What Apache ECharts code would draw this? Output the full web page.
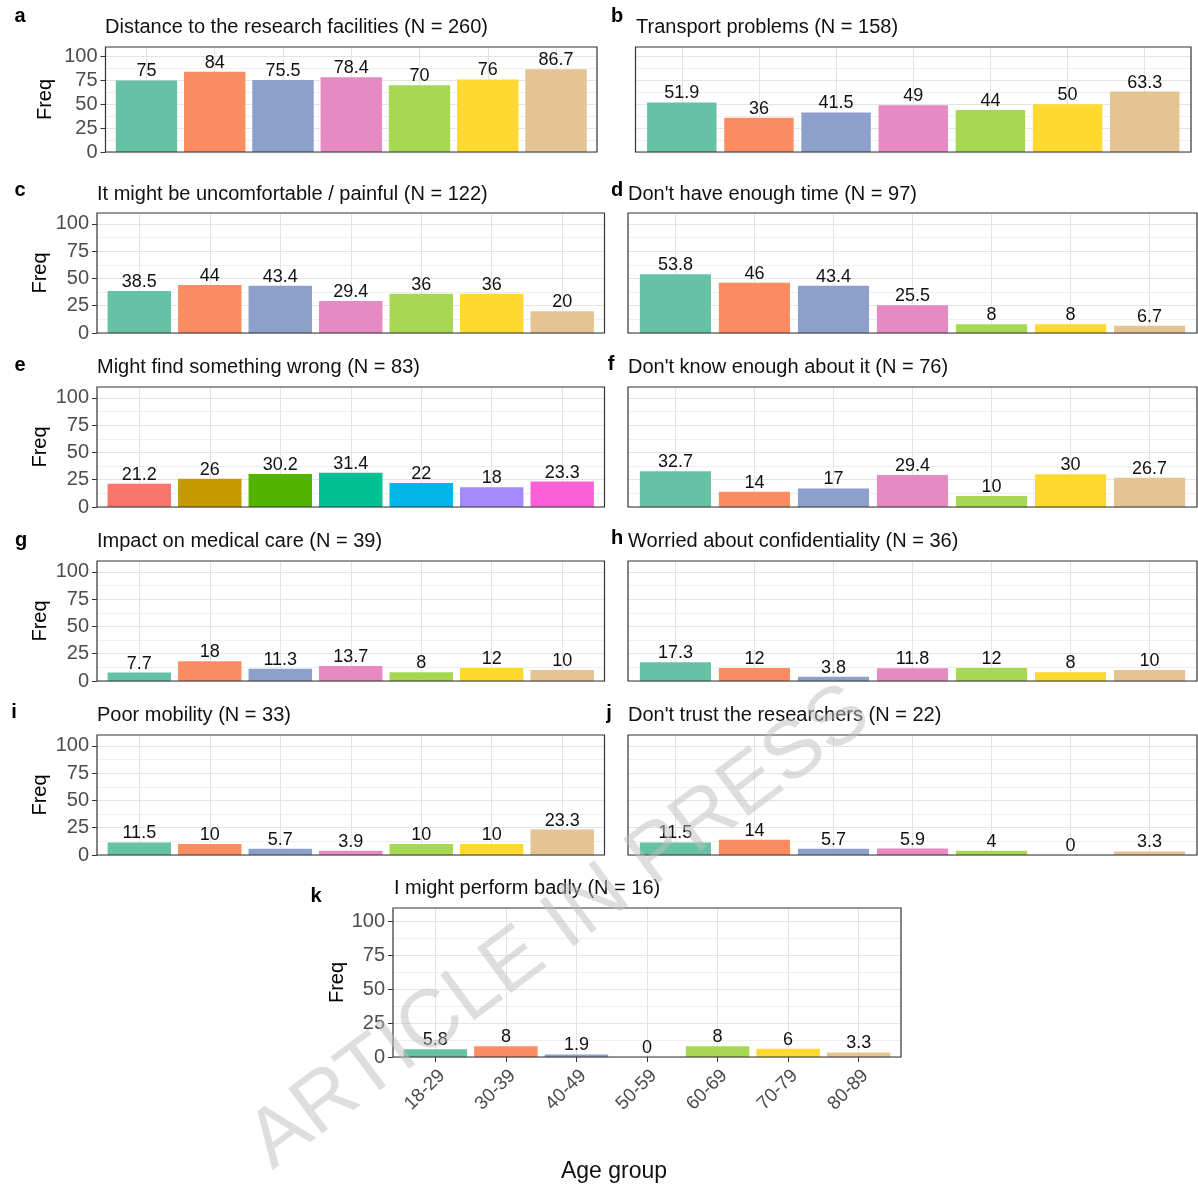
<!DOCTYPE html>
<html>
<head>
<meta charset="utf-8">
<script src="https://cdn.jsdelivr.net/npm/echarts@6/dist/echarts.min.js"></script>
<style>
html,body{margin:0;padding:0;background:#fff;}
#chart{width:1198px;height:1184px;}
</style>
</head>
<body>
<div id="chart"></div>
<script>
// ---------- data ----------
const ageGroups = ['18-29','30-39','40-49','50-59','60-69','70-79','80-89'];
const panelLetters = ['a','b','c','d','e','f','g','h','i','j','k'];
const panelTitles = [
  'Distance to the research facilities (N = 260)',
  'Transport problems (N = 158)',
  'It might be uncomfortable / painful (N = 122)',
  "Don't have enough time (N = 97)",
  'Might find something wrong (N = 83)',
  "Don't know enough about it (N = 76)",
  'Impact on medical care (N = 39)',
  'Worried about confidentiality (N = 36)',
  'Poor mobility (N = 33)',
  "Don't trust the researchers (N = 22)",
  'I might perform badly (N = 16)'
];
const distanceVals        = [75, 84, 75.5, 78.4, 70, 76, 86.7];
const transportVals       = [51.9, 36, 41.5, 49, 44, 50, 63.3];
const uncomfortableVals   = [38.5, 44, 43.4, 29.4, 36, 36, 20];
const timeVals            = [53.8, 46, 43.4, 25.5, 8, 8, 6.7];
const somethingWrongVals  = [21.2, 26, 30.2, 31.4, 22, 18, 23.3];
const knowEnoughVals      = [32.7, 14, 17, 29.4, 10, 30, 26.7];
const medicalCareVals     = [7.7, 18, 11.3, 13.7, 8, 12, 10];
const confidentialityVals = [17.3, 12, 3.8, 11.8, 12, 8, 10];
const mobilityVals        = [11.5, 10, 5.7, 3.9, 10, 10, 23.3];
const trustVals           = [11.5, 14, 5.7, 5.9, 4, 0, 3.3];
const performVals         = [5.8, 8, 1.9, 0, 8, 6, 3.3];
const yTicks = [0, 25, 50, 75, 100];
const yMax = 110;

const panelValues = [distanceVals, transportVals, uncomfortableVals, timeVals,
  somethingWrongVals, knowEnoughVals, medicalCareVals, confidentialityVals,
  mobilityVals, trustVals, performVals];

// ---------- styles / layout ----------
const set2 = ['#66C2A5','#FC8D62','#8DA0CB','#E78AC3','#A6D854','#FFD92F','#E5C494'];
const hue7 = ['#F8766D','#C49A00','#53B400','#00C094','#00B6EB','#A58AFF','#FB61D7'];
const palettes = [set2,set2,set2,set2,hue7,set2,set2,set2,set2,set2,set2];

// frame boxes [left, right, top, bottom]
const frames = [
  [105.5, 597, 47, 152], [635.5, 1191, 47, 152],
  [97, 604.5, 213, 333], [628, 1197, 213, 333],
  [97, 604.5, 387, 507], [628, 1197, 387, 507],
  [97, 604.5, 561, 681], [628, 1197, 561, 681],
  [97, 604.5, 735, 855], [628, 1197, 735, 855],
  [393, 901, 908, 1057]
];
const hasYLabels = [true,false,true,false,true,false,true,false,true,false,true];
const titlePos = [[105,27],[636,27],[97,194],[628,194],[97,367],[628,367],[97,541],[628,541],[97,715],[628,715],[394,888]];
const letterPos = [[20,16],[617,16],[20,190],[617,190],[20,365],[611,364],[21,540],[617,538],[14,712],[609,713],[316,896]];
const freqX = [45,0,40,0,40,0,40,0,40,0,338];

const FONT = '"Liberation Sans", Arial, sans-serif';

const grid = [], xAxis = [], yAxis = [], series = [], graphic = [];

frames.forEach((f, i) => {
  const [L, R, T, B] = f;
  const u = (R - L) / 7.2;
  const isK = i === 10;
  // outer (frame) grid for y axis / horizontal grid lines
  grid.push({left: L, top: T, width: R - L, height: B - T, show: false});
  // inner grid for bars
  grid.push({left: L + 0.1 * u, top: T, width: 7 * u, height: B - T, show: false});
  const go = 2 * i, gi = 2 * i + 1;
  xAxis.push({gridIndex: go, type: 'value', min: 0, max: 1, show: false});
  xAxis.push({
    gridIndex: gi, type: 'category', data: ageGroups,
    axisLine: {show: false},
    axisTick: {show: isK, alignWithLabel: true, length: 5, lineStyle: {color: '#333'}},
    axisLabel: {show: isK, rotate: 45, color: '#4d4d4d', fontSize: 19, fontFamily: FONT, margin: 9, verticalAlign: 'top'},
    splitLine: {show: true, alignWithLabel: true, lineStyle: {color: '#e4e4e4', width: 1}}
  });
  yAxis.push({
    gridIndex: go, type: 'value', min: 0, max: yMax, interval: 25,
    axisLine: {show: false},
    axisTick: {show: hasYLabels[i], length: 5, customValues: yTicks, lineStyle: {color: '#333'}},
    axisLabel: {show: hasYLabels[i], customValues: yTicks, color: '#4d4d4d', fontSize: 20, fontFamily: FONT, margin: 8},
    splitLine: {show: true, lineStyle: {color: '#e4e4e4', width: 1}},
    minorTick: {show: false, splitNumber: 2},
    minorSplitLine: {show: true, lineStyle: {color: '#efefef', width: 1}},
    name: hasYLabels[i] ? 'Freq' : '',
    nameLocation: 'middle', nameRotate: 90,
    nameGap: L - freqX[i],
    nameTextStyle: {fontSize: 20, color: '#000', fontFamily: FONT, verticalAlign: 'middle'}
  });
  yAxis.push({gridIndex: gi, type: 'value', min: 0, max: yMax, show: false});
  const pal = palettes[i];
  series.push({
    type: 'bar', xAxisIndex: gi, yAxisIndex: gi,
    barCategoryGap: '10%',
    data: panelValues[i].map((v, j) => ({value: v, itemStyle: {color: pal[j]}})),
    label: {show: true, position: 'top', distance: 0, color: '#111', fontSize: 18, fontFamily: FONT},
    animation: false
  });
  // frame
  graphic.push({type: 'rect', z: 50, silent: true,
    shape: {x: L, y: T, width: R - L, height: B - T},
    style: {fill: 'none', stroke: '#333', lineWidth: 1.2}});
  // title
  graphic.push({type: 'text', x: titlePos[i][0], y: titlePos[i][1], z: 50,
    style: {text: panelTitles[i], fill: '#111', font: '20px ' + FONT, textVerticalAlign: 'middle'}});
  graphic.push({type: 'text', x: letterPos[i][0], y: letterPos[i][1], z: 50,
    style: {text: panelLetters[i], fill: '#000', font: 'bold 20px ' + FONT, textAlign: 'center', textVerticalAlign: 'middle'}});
});

graphic.push({type: 'text', x: 614, y: 1172, z: 50,
  style: {text: 'Age group', fill: '#111', font: '23px ' + FONT, textAlign: 'center', textVerticalAlign: 'middle'}});
// watermark
graphic.push({type: 'text', x: 560, y: 928, rotation: 0.64, z: 200, silent: true,
  style: {text: 'ARTICLE IN PRESS', fill: 'rgba(190,190,190,0.5)', font: '82px ' + FONT, textAlign: 'center', textVerticalAlign: 'middle'}});

const chart = echarts.init(document.getElementById('chart'));
chart.setOption({animation: false, backgroundColor: '#fff', grid, xAxis, yAxis, series, graphic});
</script>
</body>
</html>
